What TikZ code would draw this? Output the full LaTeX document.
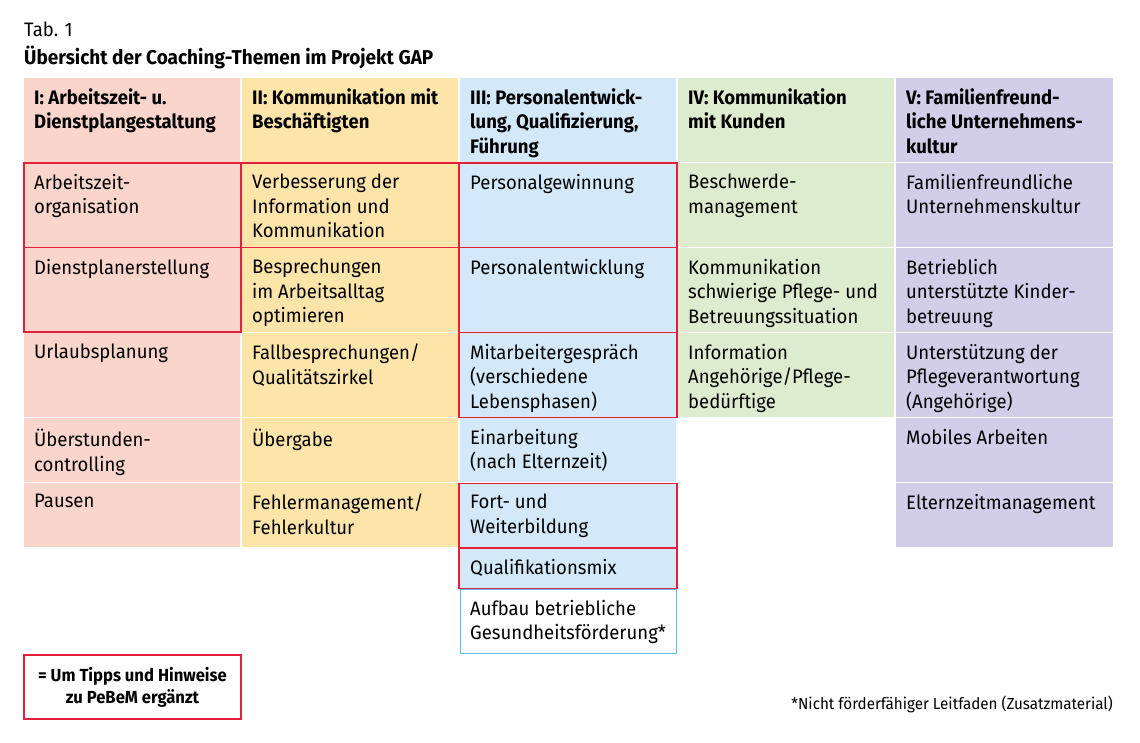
\documentclass[tikz,border=0pt]{standalone}
\usepackage{fontspec}
\setmainfont{Fira Sans}[FakeStretch=0.95]
\definecolor{cI}{HTML}{FAD5CB}
\definecolor{cII}{HTML}{FDE4A9}
\definecolor{cIII}{HTML}{D3E9FA}
\definecolor{cIV}{HTML}{DDEBCF}
\definecolor{cV}{HTML}{D2CDE8}
\definecolor{mark}{HTML}{E4203C}
\definecolor{sky}{HTML}{5BC0EE}
\tikzset{
  txt/.style={anchor=north west, align=left, inner sep=0pt, font=\fontsize{19.5}{24.5}\selectfont},
  head/.style={txt, font=\fontsize{19.5}{24.5}\selectfont\bfseries},
  redbox/.style={draw=mark, line width=1.2pt},
}
% cell: x0, y0, x1, y1, colour, name, text
\newcommand{\cell}[7]{
  \fill[#5] (#1,#2) rectangle (#3,#4);
  \node[txt] (#6) at (#1+10,#2+11) {#7};
}
\begin{document}
\begin{tikzpicture}[x=1pt,y=-1pt]
\useasboundingbox[fill=white] (0,0) rectangle (1140,742);
\node[txt, font=\fontsize{19.5}{24}\selectfont] (tab) at (24,22) {Tab. 1};
\node[head, font=\fontsize{20}{24}\selectfont\bfseries] (title) at (24,46) {Übersicht der Coaching-Themen im Projekt GAP};

% headers
\fill[cI] (24,78) rectangle (240,162);
\fill[cII] (242,78) rectangle (458,162);
\fill[cIII] (460,78) rectangle (676,162);
\fill[cIV] (678,78) rectangle (894,162);
\fill[cV] (896,78) rectangle (1113,162);
\node[head] (h1) at (34,88) {I: Arbeitszeit- u.\\Dienstplangestaltung};
\node[head] (h2) at (252,88) {II: Kommunikation mit\\Beschäftigten};
\node[head] (h3) at (470,88) {III: Personalentwick-\\lung, Qualifizierung,\\Führung};
\node[head] (h4) at (688,88) {IV: Kommunikation\\mit Kunden};
\node[head] (h5) at (906,88) {V: Familienfreund-\\liche Unternehmens-\\kultur};

% column I
\cell{24}{163}{240}{247}{cI}{a1}{Arbeitszeit-\\organisation}
\cell{24}{248}{240}{332}{cI}{a2}{Dienstplanerstellung}
\cell{24}{333}{240}{417}{cI}{a3}{Urlaubsplanung}
\cell{24}{418}{240}{482}{cI}{a4}{Überstunden-\\controlling}
\cell{24}{483}{240}{547}{cI}{a5}{Pausen}
% column II
\cell{242}{163}{458}{247}{cII}{b1}{Verbesserung der\\Information und\\Kommunikation}
\cell{242}{248}{458}{332}{cII}{b2}{Besprechungen\\im Arbeitsalltag\\optimieren}
\cell{242}{333}{458}{417}{cII}{b3}{Fallbesprechungen/\\Qualitätszirkel}
\cell{242}{418}{458}{482}{cII}{b4}{Übergabe}
\cell{242}{483}{458}{547}{cII}{b5}{Fehlermanagement/\\Fehlerkultur}
% column III
\cell{460}{163}{676}{247}{cIII}{c1}{Personalgewinnung}
\cell{460}{248}{676}{332}{cIII}{c2}{Personalentwicklung}
\cell{460}{333}{676}{417}{cIII}{c3}{Mitarbeitergespräch\\(verschiedene\\Lebensphasen)}
\cell{460}{418}{676}{482}{cIII}{c4}{Einarbeitung\\(nach Elternzeit)}
\cell{460}{483}{676}{547}{cIII}{c5}{Fort- und\\Weiterbildung}
\cell{460}{548}{676}{588}{cIII}{c6}{Qualifikationsmix}
\cell{460}{589}{676}{653}{white}{c7}{Aufbau betriebliche\\Gesundheitsförderung*}
\draw[sky, line width=1pt] (460,589) rectangle (676,653);
% column IV
\cell{678}{163}{894}{247}{cIV}{d1}{Beschwerde-\\management}
\cell{678}{248}{894}{332}{cIV}{d2}{Kommunikation\\schwierige Pflege- und\\Betreuungssituation}
\cell{678}{333}{894}{417}{cIV}{d3}{Information\\Angehörige/Pflege-\\bedürftige}
% column V
\cell{896}{163}{1113}{247}{cV}{e1}{Familienfreundliche\\Unternehmenskultur}
\cell{896}{248}{1113}{332}{cV}{e2}{Betrieblich\\unterstützte Kinder-\\betreuung}
\cell{896}{333}{1113}{417}{cV}{e3}{Unterstützung der\\Pflegeverantwortung\\(Angehörige)}
\cell{896}{418}{1113}{482}{cV}{e4}{Mobiles Arbeiten}
\cell{896}{483}{1113}{547}{cV}{e5}{Elternzeitmanagement}

% supplemented topics
\draw[redbox] (24,163) rectangle (241,247.5);
\draw[redbox] (24,247.5) rectangle (241,332);
\draw[redbox] (241,163) rectangle (459,247.5);
\draw[redbox] (459,163) rectangle (677,247.5);
\draw[redbox] (459,247.5) rectangle (677,332.5);
\draw[redbox] (459,332.5) rectangle (677,417.5);
\draw[redbox] (459,483.5) rectangle (677,548);
\draw[redbox] (459,548) rectangle (677,588.5);

% legend and footnote
\draw[redbox] (24,655) rectangle (241,719) node[midway, align=center, font=\fontsize{17.5}{22}\selectfont\bfseries] (legend) {= Um Tipps und Hinweise\\zu PeBeM ergänzt};
\node[anchor=base east, inner sep=0pt, font=\fontsize{16}{19}\selectfont] (note) at (1113,709) {*Nicht förderfähiger Leitfaden (Zusatzmaterial)};
\end{tikzpicture}
\end{document}
